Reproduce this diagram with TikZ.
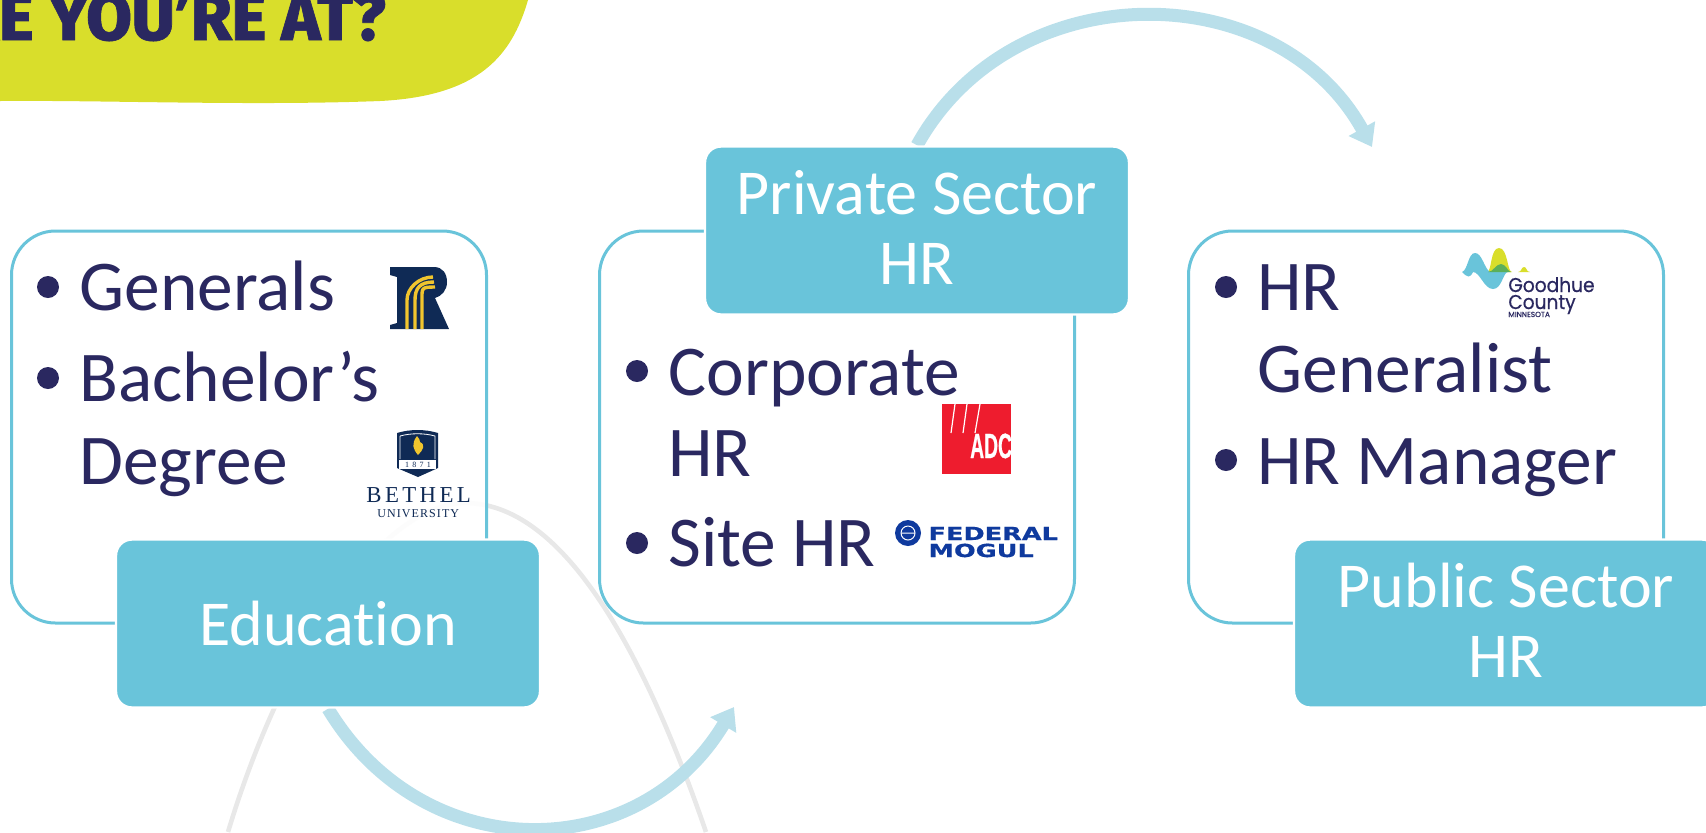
\documentclass[tikz,border=0pt]{standalone}
\usepackage{fontspec}
\usepackage{tikz}
\usetikzlibrary{positioning,arrows.meta,calc,backgrounds}
\setmainfont{Carlito}[Ligatures=NoCommon]
\newfontfamily\heavyfont{Fira Sans}[BoldFont={Fira Sans ExtraBold},BoldFeatures={FakeBold=1}]
\newfontfamily\logofont{DejaVu Sans}[BoldFeatures={FakeBold=.6}]
\newfontfamily\roundfont{Poppins}[FakeBold=.6]
\newfontfamily\crestfont{Liberation Serif}
\newfontfamily\adcfont{Liberation Sans}[BoldFeatures={FakeBold=1}]
\definecolor{ink}{HTML}{2A2860}
\definecolor{teal}{HTML}{69C4DA}
\definecolor{flow}{HTML}{B9DFEA}
\definecolor{lime}{HTML}{D9DE2B}
\definecolor{arcgray}{HTML}{E8E8E8}
\definecolor{navy}{HTML}{0F2A55}
\definecolor{gold}{HTML}{F0C52E}
\definecolor{fedblue}{HTML}{0F3A9E}
\definecolor{adcred}{HTML}{EE1C2E}
\definecolor{leaf}{HTML}{5BAF5A}
\tikzset{
	card/.style={draw=teal,line width=1.5pt,fill=white,fill opacity=.9,rounded corners=22pt,
		minimum width=237.5pt,minimum height=196pt},
	tab/.style={fill=teal,draw=white,line width=1.2pt,rounded corners=8pt,text=white,align=center,
		minimum width=212pt,minimum height=84pt,font=\fontsize{32}{35}\selectfont},
	tabtwo/.style={tab,text depth=3pt},
	item/.style={anchor=base west,inner sep=0pt,text=ink,font=\fontsize{35.7}{42}\selectfont},
	bul/.style={circle,fill=ink,inner sep=0pt,minimum size=11pt},
	flowline/.style={draw=flow,line width=6.5pt,-{Triangle[length=10.5pt,width=14.5pt]}},
	logotext/.style={anchor=base west,inner sep=0pt}
}
\begin{document}
\begin{tikzpicture}[x=0.5pt,y=0.5pt]
	\clip (0,0) rectangle (1706,-832);
	% banner
	\fill[lime] (0,0) -- (528,0) .. controls (512,-55) and (480,-96) .. (380,-101) .. controls (250,-106) and (100,-100) .. (0,-101) -- cycle;
	\node[anchor=base east,inner sep=0pt,text=ink,font=\fontsize{33}{40}\heavyfont\bfseries] (banner) at (386,-40) {RE YOU’RE AT?};

	% cards
	\node[card] (C1) at (249,-427) {};
	\node[card] (C2) at (837,-427) {};
	\node[card] (C3) at (1426,-427) {};

	% tabs
	\node[tab] (edu) at (328,-623.5) {Education};
	\node[tabtwo] (private) at (917,-230.5) {Private Sector\\HR};
	\node[tabtwo] (public) at (1506,-623.5) {Public Sector\\HR};

	\coordinate (edutip) at (734,-707);
	\coordinate (privtip) at (1372,-147);

	% grey curve and arrows go under the cards and tabs
	\begin{scope}[on background layer]
		\draw[arcgray,line width=2.3pt] (228,-832) .. controls (286,-640) and (385,-503) .. (465,-503) .. controls (560,-503) and (640,-640) .. (706,-832);
		\draw[flowline] (edu.south) to[out=-59,in=-121,looseness=1.17] (edutip);
		\draw[flowline] (private.north) to[out=61,in=119,looseness=1.11] (privtip);
	\end{scope}

	% card one
	\node[bul] (b1) at (48,-287) {};
	\node[item] (gen) at (79,-310) {Generals};
	\node[bul] (b2) at (48,-378) {};
	\node[item] (bach) at (79,-401) {Bachelor’s};
	\node[item] (deg) at (79,-484) {Degree};

	% card two
	\node[bul] (b3) at (637,-371) {};
	\node[item] (corp) at (668,-395) {Corporate};
	\node[item] (chr) at (668,-476) {HR};
	\node[bul] (b4) at (637,-543) {};
	\node[item] (site) at (668,-566) {Site HR};

	% card three
	\node[bul] (b5) at (1226,-287) {};
	\node[item] (hr) at (1257,-310) {HR};
	\node[item] (gener) at (1257,-392) {Generalist};
	\node[bul] (b6) at (1226,-460) {};
	\node[item] (mgr) at (1257,-484) {HR Manager};

	% R logo
	\fill[navy] (390,-267) -- (434,-267) .. controls (443,-267) and (447,-274) .. (447,-282) .. controls (447,-290) and (442,-296) .. (435,-298) -- (449,-329) -- (390,-329) -- (390,-325) -- (397,-323) -- (397,-277) -- (390,-275) -- cycle;
	\foreach \sx/\ex/\ey in {407/433/277,415/434/282,422/435/287}
		\draw[gold,line width=1.7pt] (\sx,-329) -- (\sx,-300) .. controls (\sx,-288) and (\ex-14,-\ey) .. (\ex,-\ey);

	% crest
	\fill[navy] (397,-433) .. controls (410,-429) and (425,-429) .. (438,-433) -- (438,-468) -- (418,-477) -- (397,-468) -- cycle;
	\draw[white,line width=.4pt] (400,-436) .. controls (411,-433) and (424,-433) .. (435,-436) -- (435,-459) (400,-436) -- (400,-459);
	\fill[gold] (417,-436) .. controls (411,-444) and (413,-449) .. (418,-455) .. controls (423,-450) and (426,-445) .. (420,-442) .. controls (420,-440) and (419,-438) .. (417,-436) -- cycle;
	\fill[white] (399,-460) rectangle (436,-469);
	\node[inner sep=0pt,text=navy,font=\fontsize{4}{5}\crestfont\addfontfeature{LetterSpace=40}] (yr) at (418,-464.5) {1871};
	\node[logotext,text=navy,font=\fontsize{11.4}{13}\crestfont\addfontfeature{LetterSpace=15}] (beth) at (366,-502) {BETHEL};
	\node[logotext,text=navy,font=\fontsize{6}{7}\crestfont\addfontfeature{LetterSpace=9}] (univ) at (377,-517) {UNIVERSITY};

	% ADC
	\fill[adcred] (942,-404) rectangle (1011,-474);
	\draw[white,line width=.6pt] (951,-433) -- (955,-404) (963,-433) -- (967,-404) (975,-433) -- (980,-404);
	\node[logotext,text=white,xscale=.55,font=\fontsize{17.5}{19}\adcfont\bfseries] (adc) at (970,-458) {ADC};

	% Federal Mogul
	\fill[fedblue] (908,-533) circle (13);
	\draw[white,line width=.5pt] (908,-533) circle (7) (901,-533) -- (915,-533);
	\node[logotext,text=fedblue,xscale=1.42,font=\fontsize{9}{10}\logofont\bfseries] (fed) at (928,-540) {FEDERAL};
	\node[logotext,text=fedblue,xscale=1.42,font=\fontsize{9}{10}\logofont\bfseries] (mog) at (928,-557) {MOGUL};

	% Goodhue
	\fill[lime] (1487,-272) .. controls (1492,-272) and (1490,-248) .. (1499,-248) .. controls (1508,-248) and (1507,-272) .. (1512,-272) -- cycle;
	\fill[lime] (1518,-272) .. controls (1522,-272) and (1521,-267) .. (1524,-267) .. controls (1527,-267) and (1526,-272) .. (1530,-272) -- cycle;
	\fill[teal] (1462,-272) .. controls (1468,-270) and (1468,-253) .. (1475,-253) .. controls (1482,-253) and (1484,-268) .. (1490,-272) -- (1508,-272) .. controls (1503,-272) and (1502,-289) .. (1493,-289) .. controls (1484,-289) and (1480,-272) .. (1473,-272) .. controls (1470,-278) and (1468,-278) .. (1462,-272) -- cycle;
	\fill[leaf] (1488,-272) .. controls (1493,-272) and (1496,-264) .. (1501,-264) .. controls (1506,-264) and (1508,-272) .. (1511,-272) -- cycle;
	\node[logotext,text=ink,xscale=.93,font=\fontsize{10}{12}\roundfont] (good) at (1508,-292) {Goodhue};
	\node[logotext,text=ink,xscale=.93,font=\fontsize{10}{12}\roundfont] (coun) at (1508,-309) {County};
	\node[logotext,text=ink,font=\fontsize{3.7}{4}\roundfont] (minn) at (1508,-317) {MINNESOTA};
\end{tikzpicture}
\end{document}
